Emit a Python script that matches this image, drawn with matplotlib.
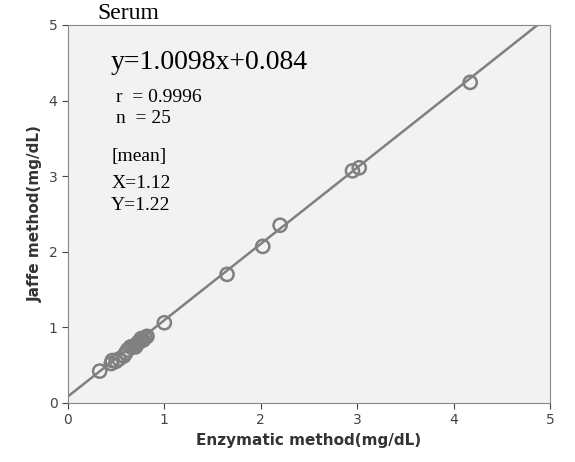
import matplotlib
matplotlib.use("Agg")
import matplotlib.pyplot as plt
import numpy as np

# Enzymatic method (x) vs Jaffe method (y), mg/dL
enzymatic = [0.33, 0.45, 0.46, 0.50, 0.53, 0.58, 0.60, 0.62, 0.65, 0.68, 0.70,
             0.72, 0.73, 0.75, 0.76, 0.78, 0.80, 0.82,
             1.00, 1.65, 2.02, 2.20, 2.95, 3.02, 4.17]
jaffe = [0.42, 0.52, 0.56, 0.55, 0.58, 0.62, 0.66, 0.70, 0.74, 0.75, 0.74,
         0.78, 0.80, 0.82, 0.85, 0.83, 0.86, 0.88,
         1.06, 1.70, 2.07, 2.35, 3.07, 3.11, 4.24]
slope, intercept = 1.0098, 0.084
ticks = [0, 1, 2, 3, 4, 5]

fig = plt.figure(figsize=(5.75, 4.62), dpi=100)
ax = fig.add_axes([0.118, 0.128, 0.839, 0.818])
ax.set_facecolor("#f2f2f2")

xl = np.array([0, 4.9])
ax.plot(xl, slope * xl + intercept, color="#808080", lw=1.8, zorder=2)
ax.scatter(enzymatic, jaffe, s=90, facecolors="none", edgecolors="#808080",
           linewidths=1.8, zorder=3)

ax.set_xlim(0, 5)
ax.set_ylim(0, 5)
ax.set_xticks(ticks)
ax.set_yticks(ticks)
for s in ax.spines.values():
    s.set_color("#888888")
ax.tick_params(colors="#444444", labelsize=10, direction="out", length=4)
ax.set_xlabel("Enzymatic method(mg/dL)", fontsize=11, fontweight="bold", color="#333333")
ax.set_ylabel("Jaffe method(mg/dL)", fontsize=11, fontweight="bold", color="#333333")

serif = "Liberation Serif"
fig.text(0.17, 0.958, "Serum", fontsize=17, family=serif)
ax.text(0.44, 4.42, "y=1.0098x+0.084", fontsize=20, family=serif)
ax.text(0.5, 3.98, "r  = 0.9996", fontsize=14, family=serif)
ax.text(0.5, 3.70, "n  = 25", fontsize=14, family=serif)
ax.text(0.45, 3.20, "[mean]", fontsize=14, family=serif)
ax.text(0.45, 2.84, "X=1.12", fontsize=14, family=serif)
ax.text(0.45, 2.55, "Y=1.22", fontsize=14, family=serif)

fig.savefig("out.png")
